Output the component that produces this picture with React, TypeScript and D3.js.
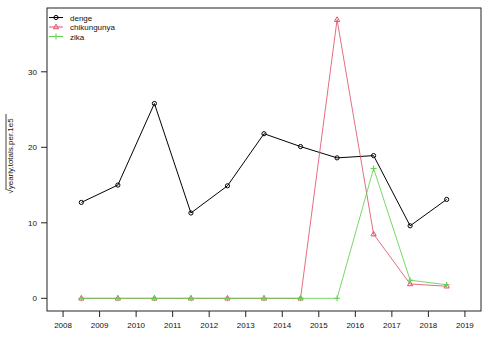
import React from "react";
import * as d3 from "d3";

const years = [2008.5, 2009.5, 2010.5, 2011.5, 2012.5, 2013.5, 2014.5, 2015.5, 2016.5, 2017.5, 2018.5];
const denge = [12.7, 15.0, 25.8, 11.3, 14.9, 21.8, 20.1, 18.6, 18.9, 9.6, 13.1];
const chikungunya = [0, 0, 0, 0, 0, 0, 0, 36.9, 8.5, 1.9, 1.6];
const zika = [0, 0, 0, 0, 0, 0, 0, 0, 17.2, 2.4, 1.8];
const xTicks = [2008, 2009, 2010, 2011, 2012, 2013, 2014, 2015, 2016, 2017, 2018, 2019];
const yTicks = [0, 10, 20, 30];
const seriesNames = ["denge", "chikungunya", "zika"];
const colors = ["#000000", "#DF536B", "#61D04F"];

export default function App() {
  const W = 495, H = 337;
  const left = 47, right = 481, top = 8, bottom = 311;
  const x = d3.scaleLinear().domain([2007.56, 2019.44]).range([left, right]);
  const y = d3.scaleLinear().domain([-1.68, 38.45]).range([bottom, top]);
  const line = d3.line<[number, number]>().x((d) => x(d[0])).y((d) => y(d[1]));
  const all = [denge, chikungunya, zika];
  const font = "Liberation Sans, Arial, sans-serif";

  const marker = (k: number, cx: number, cy: number, key: string) => {
    const c = colors[k];
    if (k === 0) return <circle key={key} cx={cx} cy={cy} r={2.1} fill="none" stroke={c} strokeWidth={1} />;
    if (k === 1) {
      const s = 2.9;
      const p = `M${cx},${cy - s}L${cx + s * 0.9},${cy + s * 0.6}L${cx - s * 0.9},${cy + s * 0.6}Z`;
      return <path key={key} d={p} fill="none" stroke={c} strokeWidth={1} />;
    }
    const s = 3;
    return <path key={key} d={`M${cx - s},${cy}H${cx + s}M${cx},${cy - s}V${cy + s}`} stroke={c} strokeWidth={1} fill="none" />;
  };

  const titleCy = 156;
  return (
    <svg width={W} height={H} style={{ position: "absolute", left: 0, top: 0, background: "#fff" }} fontFamily={font}>
      <rect x={0} y={0} width={W} height={H} fill="#fff" />
      {all.map((vals, k) => (
        <g key={k}>
          <path d={line(years.map((yr, i) => [yr, vals[i]]) as any) || ""} fill="none" stroke={colors[k]} strokeWidth={1} opacity={k === 0 ? 1 : 0.85} />
          {years.map((yr, i) => marker(k, x(yr), y(vals[i]), `${k}-${i}`))}
        </g>
      ))}
      <rect x={left} y={top} width={right - left} height={bottom - top} fill="none" stroke="#222" strokeWidth={1} />
      {xTicks.map((t) => (
        <g key={t}>
          <line x1={x(t)} x2={x(t)} y1={bottom} y2={bottom + 6} stroke="#222" />
          <text x={x(t)} y={328} fontSize={8} textAnchor="middle" fill="#111">{t}</text>
        </g>
      ))}
      {yTicks.map((t) => (
        <g key={t}>
          <line x1={left - 6} x2={left} y1={y(t)} y2={y(t)} stroke="#222" />
          <text x={37} y={y(t) + 3} fontSize={8} textAnchor="end" fill="#111">{t}</text>
        </g>
      ))}
      <g transform={`translate(13,${titleCy}) rotate(-90)`}>
        <text x={0} y={0} fontSize={8} textAnchor="middle" fill="#111">√yearly.totals.per.1e5</text>
        <line x1={-34} x2={42} y1={-7} y2={-7} stroke="#111" strokeWidth={0.8} />
      </g>
      {seriesNames.map((n, k) => {
        const ly = 17.5 + k * 9.5;
        return (
          <g key={n}>
            <line x1={49} x2={63} y1={ly} y2={ly} stroke={colors[k]} strokeWidth={1} />
            {marker(k, 56, ly, "lg" + k)}
            <text x={70} y={ly + 3} fontSize={8} fill="#111">{n}</text>
          </g>
        );
      })}
    </svg>
  );
}
